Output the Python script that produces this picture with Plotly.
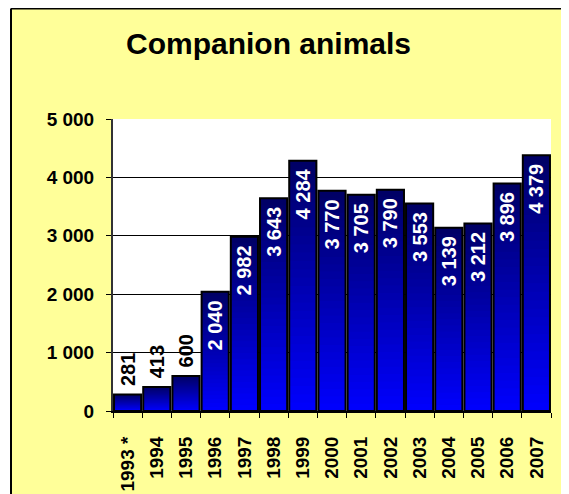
import numpy as np
import plotly.graph_objects as go

years = ["1993 *", "1994", "1995", "1996", "1997", "1998", "1999", "2000",
         "2001", "2002", "2003", "2004", "2005", "2006", "2007"]
values = [281, 413, 600, 2040, 2982, 3643, 4284, 3770,
          3705, 3790, 3553, 3139, 3212, 3896, 4379]
title_text = "Companion animals"
y_ticks = [0, 1000, 2000, 3000, 4000, 5000]

# page body has an 8px margin, so the figure is drawn 8px smaller
W, H = 561, 486
L, R, T, B = 105, 18, 111, 83
pw, ph = W - L - R, H - T - B

vals = np.array(values, dtype=float)
fig = go.Figure()

# gradient fill: overlapping bars from tallest (dark top colour) to shortest (bright bottom)
N = 30
top_rgb = np.array([0, 0, 100])
bot_rgb = np.array([0, 0, 255])
for k in range(N):
    frac = (N - k) / N
    c = bot_rgb + (top_rgb - bot_rgb) * ((N - k - 0.5) / N)
    fig.add_trace(go.Bar(
        x=years, y=vals * frac,
        marker=dict(color="rgb(%d,%d,%d)" % tuple(c.astype(int)), line=dict(width=0)),
        hoverinfo="skip", showlegend=False,
    ))

positions = ["outside" if v < 1000 else "inside" for v in values]
templates = ["\u00a0%{y:,d}" if p == "outside" else "%{y:,d}\u00a0" for p in positions]
fig.add_trace(go.Bar(
    x=years, y=values,
    marker=dict(color="rgba(0,0,0,0)", line=dict(color="black", width=2)),
    texttemplate=templates,
    textposition=positions,
    textangle=-90,
    insidetextanchor="end",
    constraintext="none",
    cliponaxis=False,
    insidetextfont=dict(color="white", size=20, family="Liberation Sans, Arial", weight="bold"),
    outsidetextfont=dict(color="black", size=20, family="Liberation Sans, Arial", weight="bold"),
    showlegend=False,
))

# outer frame: white strip left of the yellow panel and black edges
px0 = -L / pw
fx = (3 - L) / pw
py_top = (H - B) / ph
fy = (H - B - 0.5) / ph
fig.add_shape(type="rect", xref="paper", yref="paper", x0=px0 - 0.1, x1=fx, y0=-1, y1=py_top + 0.1,
              fillcolor="white", line=dict(width=0), layer="above")
fig.add_shape(type="line", xref="paper", yref="paper", x0=fx, x1=2, y0=fy, y1=fy,
              line=dict(color="black", width=2), layer="above")
fig.add_shape(type="line", xref="paper", yref="paper", x0=fx, x1=fx, y0=-1, y1=fy,
              line=dict(color="black", width=2), layer="above")

fig.add_annotation(text=title_text, xref="paper", yref="paper",
                   x=(260 - L) / pw, y=(H - B - 36) / ph, xanchor="center", yanchor="middle",
                   showarrow=False,
                   font=dict(size=30, family="Liberation Sans, Arial", color="black", weight="bold"))

fig.update_layout(
    width=W, height=H,
    margin=dict(l=L, r=R, t=T, b=B, pad=0, autoexpand=False),
    paper_bgcolor="#FFFF99",
    plot_bgcolor="white",
    barmode="overlay",
    bargap=0.07,
    separators=". ",
    showlegend=False,
    font=dict(family="Liberation Sans, Arial", color="black"),
)
fig.update_xaxes(
    type="category", tickangle=-90, ticks="outside", tickson="boundaries",
    ticklen=5, tickcolor="black", showline=True, linecolor="black", linewidth=2,
    showgrid=False, ticklabelstandoff=16, automargin=False,
    tickfont=dict(size=19, family="Liberation Sans, Arial", weight="bold"),
)
fig.update_yaxes(
    range=[0, 5000], tickvals=y_ticks, tickformat=",d", ticks="outside", ticklen=5,
    tickcolor="black", showline=True, linecolor="#333333", linewidth=2,
    showgrid=True, gridcolor="black", gridwidth=1, zeroline=False,
    ticklabelstandoff=8, automargin=False,
    tickfont=dict(size=19, family="Liberation Sans, Arial", weight="bold"),
)

fig.write_html("out.html")
